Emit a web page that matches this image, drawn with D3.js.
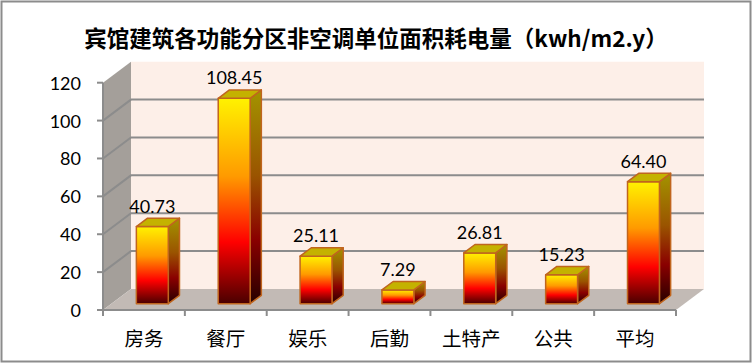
<!DOCTYPE html>
<html>
<head>
<meta charset="utf-8">
<script src="https://cdn.jsdelivr.net/npm/d3@7"></script>
<style>
  html, body { margin: 0; padding: 0; background: #fff; }
  svg { display: block; }
</style>
</head>
<body>
<div id="chart"></div>
<script>
const WIDTH = 753;
const HEIGHT = 363;

const TITLE = '宾馆建筑各功能分区非空调单位面积耗电量（kwh/m2.y）';
const CATEGORIES = ['房务', '餐厅', '娱乐', '后勤', '土特产', '公共', '平均'];
const VALUES = [40.73, 108.45, 25.11, 7.29, 26.81, 15.23, 64.40];
const Y_TICKS = [0, 20, 40, 60, 80, 100, 120];

// plot geometry (front plane)
const LEFT = 103;
const RIGHT = 676;
const BOTTOM = 310;
const TOP = 82.7;
const DEPTH_X = 28;
const DEPTH_Y = -21;
const BAR_FRONT = 0.3;
const BAR_BACK = 0.7;

const GRID = '#8c8c8c';
const OUTLINE = '#c0651e';

const svg = d3.select('#chart').append('svg')
  .attr('width', WIDTH)
  .attr('height', HEIGHT);

const x = d3.scaleBand().domain(CATEGORIES).range([LEFT, RIGHT]).padding(0);
const y = d3.scaleLinear().domain([0, 120]).range([BOTTOM, TOP]);

// depth offset helpers
const dx = f => DEPTH_X * f;
const dy = f => DEPTH_Y * f;

const defs = svg.append('defs');
const front = defs.append('linearGradient').attr('id', 'front')
  .attr('x1', 0).attr('y1', 0).attr('x2', 0).attr('y2', 1);
[[0, '#fff200'], [0.38, '#ff9a00'], [0.7, '#ff0000'], [1, '#4a0000']]
  .forEach(([o, c]) => front.append('stop').attr('offset', o).attr('stop-color', c));
const side = defs.append('linearGradient').attr('id', 'side')
  .attr('x1', 0).attr('y1', 0).attr('x2', 0).attr('y2', 1);
[[0, '#a39400'], [0.4, '#9a5400'], [0.7, '#8a0000'], [1, '#250000']]
  .forEach(([o, c]) => side.append('stop').attr('offset', o).attr('stop-color', c));

const poly = pts => 'M' + pts.map(p => p.join(',')).join('L') + 'Z';

// walls and floor
svg.append('path')
  .attr('d', poly([[LEFT + dx(1), TOP + dy(1)], [RIGHT + dx(1), TOP + dy(1)],
    [RIGHT + dx(1), BOTTOM + dy(1)], [LEFT + dx(1), BOTTOM + dy(1)]]))
  .attr('fill', '#fdefe8');
svg.append('path')
  .attr('d', poly([[LEFT, TOP], [LEFT + dx(1), TOP + dy(1)],
    [LEFT + dx(1), BOTTOM + dy(1)], [LEFT, BOTTOM]]))
  .attr('fill', '#a49f9a');
svg.append('path')
  .attr('d', poly([[LEFT, BOTTOM], [LEFT + dx(1), BOTTOM + dy(1)],
    [RIGHT + dx(1), BOTTOM + dy(1)], [RIGHT, BOTTOM]]))
  .attr('fill', '#c2bab5');

// gridlines on side wall + back wall
const grid = svg.append('g').attr('stroke', GRID).attr('stroke-width', 2).attr('fill', 'none');
Y_TICKS.filter(t => t > 0 && t < 120).forEach(t => {
  grid.append('path').attr('d', poly([[LEFT, y(t)], [LEFT + dx(1), y(t) + dy(1)],
    [RIGHT + dx(1), y(t) + dy(1)]]).replace('Z', ''));
});

// axes
const axes = svg.append('g').attr('stroke', GRID).attr('stroke-width', 2);
axes.append('line').attr('x1', LEFT).attr('x2', LEFT).attr('y1', TOP).attr('y2', BOTTOM);
axes.append('line').attr('x1', LEFT).attr('x2', RIGHT).attr('y1', BOTTOM).attr('y2', BOTTOM);
Y_TICKS.forEach(t => {
  axes.append('line').attr('x1', LEFT - 6).attr('x2', LEFT).attr('y1', y(t)).attr('y2', y(t));
});
CATEGORIES.concat([null]).forEach((c, i) => {
  const xx = c === null ? RIGHT : x(c);
  axes.append('line').attr('x1', xx).attr('x2', xx).attr('y1', BOTTOM).attr('y2', BOTTOM + 6);
});

svg.append('g').selectAll('text').data(Y_TICKS).join('text')
  .attr('x', 81).attr('y', d => y(d))
  .attr('text-anchor', 'end').attr('dominant-baseline', 'central')
  .attr('font-family', 'Lato, "Open Sans", sans-serif').attr('font-size', 18)
  .attr('fill', '#000').text(d => d);

svg.append('g').selectAll('text').data(CATEGORIES).join('text')
  .attr('x', d => x(d) + x.bandwidth() / 2).attr('y', 337)
  .attr('text-anchor', 'middle').attr('dominant-baseline', 'central')
  .attr('font-family', '"Noto Sans CJK SC", sans-serif').attr('font-size', 19.5)
  .attr('fill', '#000').text(d => d);

// bars
const barW = x.bandwidth() * 0.39;
const bars = svg.append('g').selectAll('g').data(CATEGORIES.map((c, i) => ({ c, v: VALUES[i] })))
  .join('g')
  .attr('stroke', OUTLINE).attr('stroke-width', 1.5).attr('stroke-linejoin', 'round');

bars.each(function (d) {
  const g = d3.select(this);
  const x0 = x(d.c) + x.bandwidth() / 2 - barW / 2 + dx(BAR_FRONT);
  const x1 = x0 + barW;
  const yb = y(0) + dy(BAR_FRONT);
  const yt = y(d.v) + dy(BAR_FRONT);
  const ddx = dx(BAR_BACK - BAR_FRONT);
  const ddy = dy(BAR_BACK - BAR_FRONT);
  g.append('path').attr('fill', 'url(#side)')
    .attr('d', poly([[x1, yt], [x1 + ddx, yt + ddy], [x1 + ddx, yb + ddy], [x1, yb]]));
  g.append('path').attr('fill', 'url(#front)')
    .attr('d', poly([[x0, yt], [x1, yt], [x1, yb], [x0, yb]]));
  g.append('path').attr('fill', '#c4b200')
    .attr('d', poly([[x0, yt], [x0 + ddx, yt + ddy], [x1 + ddx, yt + ddy], [x1, yt]]));
  svg.append('text')
    .attr('x', (x0 + x1) / 2).attr('y', yt - 14)
    .attr('text-anchor', 'middle')
    .attr('font-family', 'Lato, "Open Sans", sans-serif').attr('font-size', 18)
    .attr('fill', '#000').text(d.v.toFixed(2));
});

// title
svg.append('text')
  .attr('x', 376).attr('y', 37)
  .attr('text-anchor', 'middle').attr('dominant-baseline', 'central')
  .attr('font-family', '"Noto Sans CJK SC", sans-serif').attr('font-weight', 'bold')
  .attr('font-size', 22.5).attr('fill', '#000').text(TITLE);

// outer border
svg.append('rect')
  .attr('x', 1.5).attr('y', 1.5).attr('width', WIDTH - 4).attr('height', HEIGHT - 3)
  .attr('fill', 'none').attr('stroke', '#8c8c8c').attr('stroke-width', 2);
</script>
</body>
</html>
